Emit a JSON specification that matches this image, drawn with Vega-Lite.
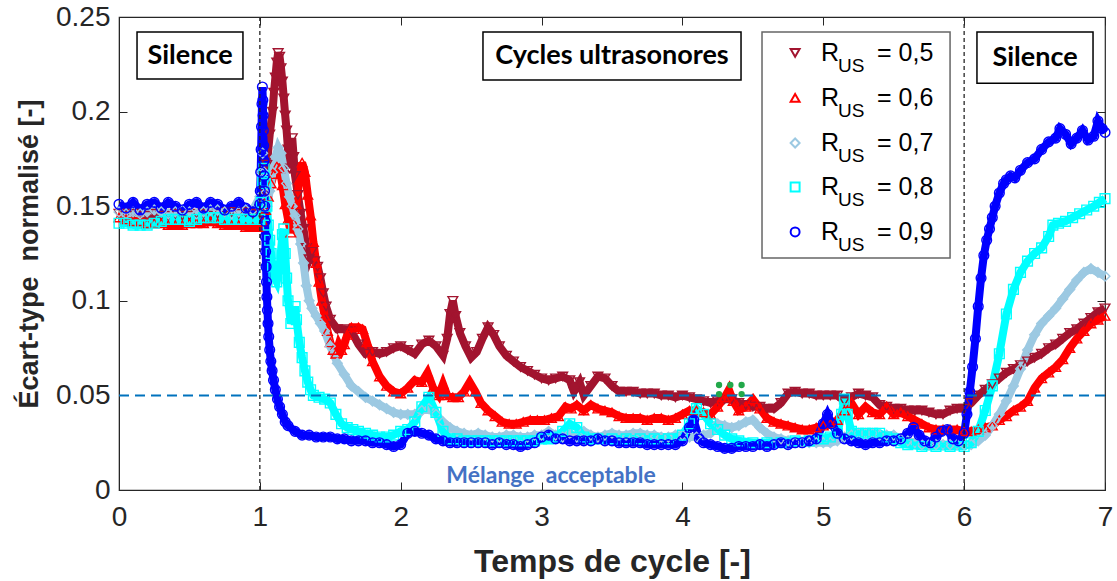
{
"$schema":"https://vega.github.io/schema/vega-lite/v6.json",
"width":986,"height":473,
"autosize":{"type":"none"},
"padding":{"left":119,"top":17,"right":12,"bottom":91},
"background":"white",
"config":{"view":{"stroke":"#262626","strokeWidth":1.2},"font":"Liberation Sans"},
"datasets":{
"pts":[
{"r":"0,5","x":0,"y":0.146},{"r":"0,5","x":0.05,"y":0.145},{"r":"0,5","x":0.1,"y":0.146},{"r":"0,5","x":0.15,"y":0.145},{"r":"0,5","x":0.2,"y":0.145},{"r":"0,5","x":0.25,"y":0.146},{"r":"0,5","x":0.3,"y":0.145},{"r":"0,5","x":0.35,"y":0.145},{"r":"0,5","x":0.4,"y":0.146},{"r":"0,5","x":0.45,"y":0.145},{"r":"0,5","x":0.5,"y":0.145},{"r":"0,5","x":0.55,"y":0.146},{"r":"0,5","x":0.6,"y":0.146},{"r":"0,5","x":0.65,"y":0.145},{"r":"0,5","x":0.7,"y":0.146},{"r":"0,5","x":0.75,"y":0.147},{"r":"0,5","x":0.8,"y":0.147},{"r":"0,5","x":0.85,"y":0.146},{"r":"0,5","x":0.9,"y":0.147},{"r":"0,5","x":0.95,"y":0.146},{"r":"0,5","x":1,"y":0.146},
{"r":"0,5","x":1.03,"y":0.158},{"r":"0,5","x":1.05,"y":0.172},{"r":"0,5","x":1.07,"y":0.188},{"r":"0,5","x":1.09,"y":0.2},{"r":"0,5","x":1.1,"y":0.21},{"r":"0,5","x":1.11,"y":0.218},{"r":"0,5","x":1.12,"y":0.226},{"r":"0,5","x":1.13,"y":0.231},{"r":"0,5","x":1.14,"y":0.229},{"r":"0,5","x":1.15,"y":0.223},{"r":"0,5","x":1.16,"y":0.216},{"r":"0,5","x":1.17,"y":0.207},{"r":"0,5","x":1.18,"y":0.198},{"r":"0,5","x":1.19,"y":0.19},{"r":"0,5","x":1.2,"y":0.18},{"r":"0,5","x":1.21,"y":0.17},{"r":"0,5","x":1.22,"y":0.178},{"r":"0,5","x":1.23,"y":0.186},{"r":"0,5","x":1.24,"y":0.176},{"r":"0,5","x":1.25,"y":0.166},{"r":"0,5","x":1.27,"y":0.156},{"r":"0,5","x":1.29,"y":0.146},{"r":"0,5","x":1.31,"y":0.138},{"r":"0,5","x":1.33,"y":0.128},{"r":"0,5","x":1.35,"y":0.122},{"r":"0,5","x":1.37,"y":0.126},{"r":"0,5","x":1.39,"y":0.121},{"r":"0,5","x":1.41,"y":0.118},{"r":"0,5","x":1.43,"y":0.112},{"r":"0,5","x":1.45,"y":0.104},{"r":"0,5","x":1.47,"y":0.097},{"r":"0,5","x":1.5,"y":0.09},
{"r":"0,5","x":1.55,"y":0.085},{"r":"0,5","x":1.6,"y":0.085},{"r":"0,5","x":1.65,"y":0.084},{"r":"0,5","x":1.7,"y":0.077},{"r":"0,5","x":1.75,"y":0.072},{"r":"0,5","x":1.8,"y":0.073},{"r":"0,5","x":1.85,"y":0.072},{"r":"0,5","x":1.9,"y":0.073},{"r":"0,5","x":1.95,"y":0.075},{"r":"0,5","x":2,"y":0.076},{"r":"0,5","x":2.05,"y":0.074},{"r":"0,5","x":2.1,"y":0.072},{"r":"0,5","x":2.15,"y":0.077},{"r":"0,5","x":2.2,"y":0.079},{"r":"0,5","x":2.25,"y":0.076},{"r":"0,5","x":2.3,"y":0.071},{"r":"0,5","x":2.33,"y":0.08},{"r":"0,5","x":2.35,"y":0.093},{"r":"0,5","x":2.37,"y":0.1},{"r":"0,5","x":2.39,"y":0.092},{"r":"0,5","x":2.42,"y":0.083},{"r":"0,5","x":2.46,"y":0.076},{"r":"0,5","x":2.5,"y":0.07},{"r":"0,5","x":2.54,"y":0.073},{"r":"0,5","x":2.58,"y":0.08},{"r":"0,5","x":2.62,"y":0.086},{"r":"0,5","x":2.66,"y":0.082},{"r":"0,5","x":2.7,"y":0.076},{"r":"0,5","x":2.75,"y":0.071},{"r":"0,5","x":2.8,"y":0.068},{"r":"0,5","x":2.85,"y":0.065},{"r":"0,5","x":2.9,"y":0.063},{"r":"0,5","x":2.95,"y":0.061},{"r":"0,5","x":3,"y":0.059},{"r":"0,5","x":3.05,"y":0.058},{"r":"0,5","x":3.1,"y":0.059},{"r":"0,5","x":3.15,"y":0.06},{"r":"0,5","x":3.2,"y":0.058},{"r":"0,5","x":3.23,"y":0.052},{"r":"0,5","x":3.27,"y":0.057},{"r":"0,5","x":3.3,"y":0.05},{"r":"0,5","x":3.35,"y":0.055},{"r":"0,5","x":3.4,"y":0.06},{"r":"0,5","x":3.45,"y":0.059},{"r":"0,5","x":3.5,"y":0.055},{"r":"0,5","x":3.55,"y":0.052},{"r":"0,5","x":3.6,"y":0.052},{"r":"0,5","x":3.65,"y":0.052},{"r":"0,5","x":3.7,"y":0.051},{"r":"0,5","x":3.75,"y":0.051},{"r":"0,5","x":3.8,"y":0.051},{"r":"0,5","x":3.85,"y":0.05},{"r":"0,5","x":3.9,"y":0.05},{"r":"0,5","x":3.95,"y":0.049},{"r":"0,5","x":4,"y":0.05},{"r":"0,5","x":4.05,"y":0.049},{"r":"0,5","x":4.1,"y":0.048},{"r":"0,5","x":4.15,"y":0.047},{"r":"0,5","x":4.2,"y":0.046},{"r":"0,5","x":4.25,"y":0.047},{"r":"0,5","x":4.3,"y":0.048},{"r":"0,5","x":4.35,"y":0.048},{"r":"0,5","x":4.4,"y":0.046},{"r":"0,5","x":4.45,"y":0.045},{"r":"0,5","x":4.5,"y":0.044},{"r":"0,5","x":4.55,"y":0.044},{"r":"0,5","x":4.6,"y":0.043},{"r":"0,5","x":4.65,"y":0.043},{"r":"0,5","x":4.7,"y":0.046},{"r":"0,5","x":4.75,"y":0.051},{"r":"0,5","x":4.8,"y":0.052},{"r":"0,5","x":4.85,"y":0.051},{"r":"0,5","x":4.9,"y":0.051},{"r":"0,5","x":4.95,"y":0.05},{"r":"0,5","x":5,"y":0.05},{"r":"0,5","x":5.05,"y":0.05},{"r":"0,5","x":5.1,"y":0.05},{"r":"0,5","x":5.15,"y":0.047},{"r":"0,5","x":5.2,"y":0.049},{"r":"0,5","x":5.25,"y":0.051},{"r":"0,5","x":5.3,"y":0.05},{"r":"0,5","x":5.35,"y":0.049},{"r":"0,5","x":5.4,"y":0.045},{"r":"0,5","x":5.45,"y":0.044},{"r":"0,5","x":5.5,"y":0.043},{"r":"0,5","x":5.55,"y":0.043},{"r":"0,5","x":5.6,"y":0.042},{"r":"0,5","x":5.65,"y":0.042},{"r":"0,5","x":5.7,"y":0.042},{"r":"0,5","x":5.75,"y":0.041},{"r":"0,5","x":5.8,"y":0.04},{"r":"0,5","x":5.85,"y":0.04},{"r":"0,5","x":5.9,"y":0.042},{"r":"0,5","x":5.95,"y":0.043},{"r":"0,5","x":6,"y":0.043},{"r":"0,5","x":6.05,"y":0.046},{"r":"0,5","x":6.1,"y":0.05},{"r":"0,5","x":6.15,"y":0.053},{"r":"0,5","x":6.2,"y":0.056},{"r":"0,5","x":6.25,"y":0.059},{"r":"0,5","x":6.3,"y":0.062},{"r":"0,5","x":6.35,"y":0.064},{"r":"0,5","x":6.4,"y":0.066},{"r":"0,5","x":6.45,"y":0.068},{"r":"0,5","x":6.5,"y":0.07},{"r":"0,5","x":6.55,"y":0.072},{"r":"0,5","x":6.6,"y":0.075},{"r":"0,5","x":6.65,"y":0.077},{"r":"0,5","x":6.7,"y":0.08},{"r":"0,5","x":6.75,"y":0.083},{"r":"0,5","x":6.8,"y":0.085},{"r":"0,5","x":6.85,"y":0.088},{"r":"0,5","x":6.9,"y":0.091},{"r":"0,5","x":6.95,"y":0.094},{"r":"0,5","x":7,"y":0.096},
{"r":"0,6","x":0,"y":0.144},{"r":"0,6","x":0.05,"y":0.143},{"r":"0,6","x":0.1,"y":0.142},{"r":"0,6","x":0.15,"y":0.142},{"r":"0,6","x":0.2,"y":0.141},{"r":"0,6","x":0.25,"y":0.141},{"r":"0,6","x":0.3,"y":0.141},{"r":"0,6","x":0.35,"y":0.14},{"r":"0,6","x":0.4,"y":0.14},{"r":"0,6","x":0.45,"y":0.14},{"r":"0,6","x":0.5,"y":0.141},{"r":"0,6","x":0.55,"y":0.141},{"r":"0,6","x":0.6,"y":0.141},{"r":"0,6","x":0.65,"y":0.142},{"r":"0,6","x":0.7,"y":0.141},{"r":"0,6","x":0.75,"y":0.14},{"r":"0,6","x":0.8,"y":0.14},{"r":"0,6","x":0.85,"y":0.14},{"r":"0,6","x":0.9,"y":0.139},{"r":"0,6","x":0.95,"y":0.139},{"r":"0,6","x":1,"y":0.139},
{"r":"0,6","x":1.02,"y":0.142},{"r":"0,6","x":1.04,"y":0.148},{"r":"0,6","x":1.06,"y":0.155},{"r":"0,6","x":1.08,"y":0.162},{"r":"0,6","x":1.1,"y":0.167},{"r":"0,6","x":1.12,"y":0.171},{"r":"0,6","x":1.14,"y":0.17},{"r":"0,6","x":1.16,"y":0.161},{"r":"0,6","x":1.18,"y":0.151},{"r":"0,6","x":1.2,"y":0.143},{"r":"0,6","x":1.22,"y":0.136},{"r":"0,6","x":1.24,"y":0.141},{"r":"0,6","x":1.26,"y":0.151},{"r":"0,6","x":1.28,"y":0.164},{"r":"0,6","x":1.3,"y":0.173},{"r":"0,6","x":1.32,"y":0.168},{"r":"0,6","x":1.34,"y":0.156},{"r":"0,6","x":1.36,"y":0.145},{"r":"0,6","x":1.38,"y":0.131},{"r":"0,6","x":1.4,"y":0.12},{"r":"0,6","x":1.42,"y":0.11},{"r":"0,6","x":1.44,"y":0.1},{"r":"0,6","x":1.46,"y":0.092},{"r":"0,6","x":1.48,"y":0.084},{"r":"0,6","x":1.5,"y":0.078},{"r":"0,6","x":1.52,"y":0.074},{"r":"0,6","x":1.54,"y":0.072},{"r":"0,6","x":1.56,"y":0.077},{"r":"0,6","x":1.58,"y":0.074},{"r":"0,6","x":1.6,"y":0.077},{"r":"0,6","x":1.62,"y":0.082},{"r":"0,6","x":1.65,"y":0.086},{"r":"0,6","x":1.7,"y":0.086},{"r":"0,6","x":1.73,"y":0.085},{"r":"0,6","x":1.76,"y":0.078},{"r":"0,6","x":1.8,"y":0.068},{"r":"0,6","x":1.85,"y":0.06},{"r":"0,6","x":1.9,"y":0.055},{"r":"0,6","x":1.95,"y":0.052},{"r":"0,6","x":2,"y":0.051},{"r":"0,6","x":2.05,"y":0.054},{"r":"0,6","x":2.1,"y":0.058},{"r":"0,6","x":2.15,"y":0.057},{"r":"0,6","x":2.19,"y":0.062},{"r":"0,6","x":2.23,"y":0.054},{"r":"0,6","x":2.27,"y":0.05},{"r":"0,6","x":2.3,"y":0.056},{"r":"0,6","x":2.33,"y":0.05},{"r":"0,6","x":2.37,"y":0.049},{"r":"0,6","x":2.41,"y":0.049},{"r":"0,6","x":2.45,"y":0.052},{"r":"0,6","x":2.49,"y":0.057},{"r":"0,6","x":2.53,"y":0.052},{"r":"0,6","x":2.57,"y":0.046},{"r":"0,6","x":2.62,"y":0.042},{"r":"0,6","x":2.67,"y":0.039},{"r":"0,6","x":2.72,"y":0.036},{"r":"0,6","x":2.77,"y":0.035},{"r":"0,6","x":2.82,"y":0.035},{"r":"0,6","x":2.87,"y":0.036},{"r":"0,6","x":2.92,"y":0.037},{"r":"0,6","x":2.97,"y":0.037},{"r":"0,6","x":3.02,"y":0.037},{"r":"0,6","x":3.07,"y":0.038},{"r":"0,6","x":3.12,"y":0.039},{"r":"0,6","x":3.17,"y":0.044},{"r":"0,6","x":3.21,"y":0.043},{"r":"0,6","x":3.25,"y":0.045},{"r":"0,6","x":3.3,"y":0.042},{"r":"0,6","x":3.35,"y":0.045},{"r":"0,6","x":3.4,"y":0.043},{"r":"0,6","x":3.45,"y":0.042},{"r":"0,6","x":3.5,"y":0.041},{"r":"0,6","x":3.55,"y":0.039},{"r":"0,6","x":3.6,"y":0.038},{"r":"0,6","x":3.65,"y":0.038},{"r":"0,6","x":3.7,"y":0.038},{"r":"0,6","x":3.75,"y":0.037},{"r":"0,6","x":3.8,"y":0.038},{"r":"0,6","x":3.85,"y":0.038},{"r":"0,6","x":3.9,"y":0.037},{"r":"0,6","x":3.95,"y":0.038},{"r":"0,6","x":4,"y":0.04},{"r":"0,6","x":4.05,"y":0.042},{"r":"0,6","x":4.1,"y":0.042},{"r":"0,6","x":4.15,"y":0.041},{"r":"0,6","x":4.2,"y":0.04},{"r":"0,6","x":4.25,"y":0.044},{"r":"0,6","x":4.3,"y":0.049},{"r":"0,6","x":4.33,"y":0.053},{"r":"0,6","x":4.36,"y":0.047},{"r":"0,6","x":4.4,"y":0.042},{"r":"0,6","x":4.45,"y":0.044},{"r":"0,6","x":4.5,"y":0.048},{"r":"0,6","x":4.55,"y":0.043},{"r":"0,6","x":4.6,"y":0.038},{"r":"0,6","x":4.65,"y":0.036},{"r":"0,6","x":4.7,"y":0.035},{"r":"0,6","x":4.75,"y":0.034},{"r":"0,6","x":4.8,"y":0.033},{"r":"0,6","x":4.85,"y":0.032},{"r":"0,6","x":4.9,"y":0.032},{"r":"0,6","x":4.95,"y":0.033},{"r":"0,6","x":5,"y":0.034},{"r":"0,6","x":5.05,"y":0.035},{"r":"0,6","x":5.1,"y":0.037},{"r":"0,6","x":5.15,"y":0.042},{"r":"0,6","x":5.2,"y":0.046},{"r":"0,6","x":5.25,"y":0.04},{"r":"0,6","x":5.3,"y":0.044},{"r":"0,6","x":5.35,"y":0.041},{"r":"0,6","x":5.4,"y":0.04},{"r":"0,6","x":5.45,"y":0.044},{"r":"0,6","x":5.5,"y":0.04},{"r":"0,6","x":5.55,"y":0.041},{"r":"0,6","x":5.6,"y":0.039},{"r":"0,6","x":5.65,"y":0.037},{"r":"0,6","x":5.7,"y":0.035},{"r":"0,6","x":5.75,"y":0.033},{"r":"0,6","x":5.8,"y":0.032},{"r":"0,6","x":5.85,"y":0.032},{"r":"0,6","x":5.9,"y":0.032},{"r":"0,6","x":5.95,"y":0.032},{"r":"0,6","x":6,"y":0.031},{"r":"0,6","x":6.05,"y":0.031},{"r":"0,6","x":6.1,"y":0.032},{"r":"0,6","x":6.15,"y":0.033},{"r":"0,6","x":6.2,"y":0.034},{"r":"0,6","x":6.25,"y":0.037},{"r":"0,6","x":6.3,"y":0.039},{"r":"0,6","x":6.35,"y":0.042},{"r":"0,6","x":6.4,"y":0.044},{"r":"0,6","x":6.45,"y":0.047},{"r":"0,6","x":6.5,"y":0.054},{"r":"0,6","x":6.55,"y":0.059},{"r":"0,6","x":6.6,"y":0.062},{"r":"0,6","x":6.65,"y":0.065},{"r":"0,6","x":6.7,"y":0.069},{"r":"0,6","x":6.75,"y":0.075},{"r":"0,6","x":6.8,"y":0.08},{"r":"0,6","x":6.85,"y":0.084},{"r":"0,6","x":6.9,"y":0.088},{"r":"0,6","x":6.95,"y":0.09},{"r":"0,6","x":7,"y":0.092},
{"r":"0,7","x":0,"y":0.147},{"r":"0,7","x":0.05,"y":0.146},{"r":"0,7","x":0.1,"y":0.147},{"r":"0,7","x":0.15,"y":0.146},{"r":"0,7","x":0.2,"y":0.147},{"r":"0,7","x":0.25,"y":0.148},{"r":"0,7","x":0.3,"y":0.147},{"r":"0,7","x":0.35,"y":0.146},{"r":"0,7","x":0.4,"y":0.147},{"r":"0,7","x":0.45,"y":0.148},{"r":"0,7","x":0.5,"y":0.147},{"r":"0,7","x":0.55,"y":0.146},{"r":"0,7","x":0.6,"y":0.147},{"r":"0,7","x":0.65,"y":0.148},{"r":"0,7","x":0.7,"y":0.148},{"r":"0,7","x":0.75,"y":0.147},{"r":"0,7","x":0.8,"y":0.146},{"r":"0,7","x":0.85,"y":0.147},{"r":"0,7","x":0.9,"y":0.148},{"r":"0,7","x":0.95,"y":0.148},
{"r":"0,7","x":1,"y":0.155},{"r":"0,7","x":1.01,"y":0.168},{"r":"0,7","x":1.02,"y":0.178},{"r":"0,7","x":1.03,"y":0.168},{"r":"0,7","x":1.04,"y":0.157},{"r":"0,7","x":1.05,"y":0.15},{"r":"0,7","x":1.07,"y":0.158},{"r":"0,7","x":1.09,"y":0.168},{"r":"0,7","x":1.11,"y":0.176},{"r":"0,7","x":1.13,"y":0.181},{"r":"0,7","x":1.15,"y":0.178},{"r":"0,7","x":1.17,"y":0.17},{"r":"0,7","x":1.19,"y":0.162},{"r":"0,7","x":1.21,"y":0.155},{"r":"0,7","x":1.23,"y":0.15},{"r":"0,7","x":1.25,"y":0.145},{"r":"0,7","x":1.27,"y":0.138},{"r":"0,7","x":1.29,"y":0.13},{"r":"0,7","x":1.31,"y":0.12},{"r":"0,7","x":1.33,"y":0.108},{"r":"0,7","x":1.35,"y":0.1},{"r":"0,7","x":1.37,"y":0.096},{"r":"0,7","x":1.4,"y":0.092},{"r":"0,7","x":1.43,"y":0.088},{"r":"0,7","x":1.46,"y":0.084},{"r":"0,7","x":1.5,"y":0.076},{"r":"0,7","x":1.55,"y":0.067},{"r":"0,7","x":1.6,"y":0.061},{"r":"0,7","x":1.65,"y":0.055},{"r":"0,7","x":1.7,"y":0.052},{"r":"0,7","x":1.75,"y":0.049},{"r":"0,7","x":1.8,"y":0.047},{"r":"0,7","x":1.85,"y":0.045},{"r":"0,7","x":1.9,"y":0.043},{"r":"0,7","x":1.95,"y":0.041},{"r":"0,7","x":2,"y":0.04},{"r":"0,7","x":2.05,"y":0.04},{"r":"0,7","x":2.1,"y":0.04},{"r":"0,7","x":2.15,"y":0.042},{"r":"0,7","x":2.2,"y":0.043},{"r":"0,7","x":2.25,"y":0.04},{"r":"0,7","x":2.3,"y":0.036},{"r":"0,7","x":2.35,"y":0.033},{"r":"0,7","x":2.4,"y":0.031},{"r":"0,7","x":2.45,"y":0.03},{"r":"0,7","x":2.5,"y":0.029},{"r":"0,7","x":2.55,"y":0.03},{"r":"0,7","x":2.6,"y":0.029},{"r":"0,7","x":2.65,"y":0.028},{"r":"0,7","x":2.7,"y":0.028},{"r":"0,7","x":2.75,"y":0.029},{"r":"0,7","x":2.8,"y":0.029},{"r":"0,7","x":2.85,"y":0.028},{"r":"0,7","x":2.9,"y":0.028},{"r":"0,7","x":2.95,"y":0.029},{"r":"0,7","x":3,"y":0.029},{"r":"0,7","x":3.05,"y":0.031},{"r":"0,7","x":3.1,"y":0.029},{"r":"0,7","x":3.15,"y":0.028},{"r":"0,7","x":3.2,"y":0.03},{"r":"0,7","x":3.25,"y":0.028},{"r":"0,7","x":3.3,"y":0.031},{"r":"0,7","x":3.35,"y":0.029},{"r":"0,7","x":3.4,"y":0.028},{"r":"0,7","x":3.45,"y":0.029},{"r":"0,7","x":3.5,"y":0.03},{"r":"0,7","x":3.55,"y":0.029},{"r":"0,7","x":3.6,"y":0.029},{"r":"0,7","x":3.65,"y":0.03},{"r":"0,7","x":3.7,"y":0.03},{"r":"0,7","x":3.75,"y":0.029},{"r":"0,7","x":3.8,"y":0.029},{"r":"0,7","x":3.85,"y":0.028},{"r":"0,7","x":3.9,"y":0.028},{"r":"0,7","x":3.95,"y":0.029},{"r":"0,7","x":4,"y":0.029},{"r":"0,7","x":4.05,"y":0.028},{"r":"0,7","x":4.1,"y":0.028},{"r":"0,7","x":4.15,"y":0.029},{"r":"0,7","x":4.2,"y":0.03},{"r":"0,7","x":4.25,"y":0.035},{"r":"0,7","x":4.3,"y":0.034},{"r":"0,7","x":4.35,"y":0.033},{"r":"0,7","x":4.4,"y":0.034},{"r":"0,7","x":4.45,"y":0.036},{"r":"0,7","x":4.5,"y":0.037},{"r":"0,7","x":4.55,"y":0.033},{"r":"0,7","x":4.6,"y":0.03},{"r":"0,7","x":4.65,"y":0.028},{"r":"0,7","x":4.7,"y":0.027},{"r":"0,7","x":4.75,"y":0.026},{"r":"0,7","x":4.8,"y":0.025},{"r":"0,7","x":4.85,"y":0.025},{"r":"0,7","x":4.9,"y":0.025},{"r":"0,7","x":4.95,"y":0.025},{"r":"0,7","x":5,"y":0.025},{"r":"0,7","x":5.05,"y":0.025},{"r":"0,7","x":5.1,"y":0.026},{"r":"0,7","x":5.15,"y":0.028},{"r":"0,7","x":5.2,"y":0.029},{"r":"0,7","x":5.25,"y":0.03},{"r":"0,7","x":5.3,"y":0.03},{"r":"0,7","x":5.35,"y":0.03},{"r":"0,7","x":5.4,"y":0.029},{"r":"0,7","x":5.45,"y":0.029},{"r":"0,7","x":5.5,"y":0.029},{"r":"0,7","x":5.55,"y":0.027},{"r":"0,7","x":5.6,"y":0.026},{"r":"0,7","x":5.65,"y":0.025},{"r":"0,7","x":5.7,"y":0.024},{"r":"0,7","x":5.75,"y":0.024},{"r":"0,7","x":5.8,"y":0.024},{"r":"0,7","x":5.85,"y":0.024},{"r":"0,7","x":5.9,"y":0.024},{"r":"0,7","x":5.95,"y":0.024},{"r":"0,7","x":6,"y":0.024},{"r":"0,7","x":6.05,"y":0.024},{"r":"0,7","x":6.1,"y":0.026},{"r":"0,7","x":6.15,"y":0.029},{"r":"0,7","x":6.2,"y":0.034},{"r":"0,7","x":6.25,"y":0.04},{"r":"0,7","x":6.3,"y":0.047},{"r":"0,7","x":6.35,"y":0.055},{"r":"0,7","x":6.4,"y":0.064},{"r":"0,7","x":6.45,"y":0.074},{"r":"0,7","x":6.5,"y":0.082},{"r":"0,7","x":6.55,"y":0.088},{"r":"0,7","x":6.6,"y":0.092},{"r":"0,7","x":6.65,"y":0.096},{"r":"0,7","x":6.7,"y":0.101},{"r":"0,7","x":6.75,"y":0.106},{"r":"0,7","x":6.8,"y":0.111},{"r":"0,7","x":6.85,"y":0.115},{"r":"0,7","x":6.9,"y":0.117},{"r":"0,7","x":6.95,"y":0.115},{"r":"0,7","x":7,"y":0.113},
{"r":"0,8","x":0,"y":0.141},{"r":"0,8","x":0.05,"y":0.141},{"r":"0,8","x":0.1,"y":0.14},{"r":"0,8","x":0.15,"y":0.14},{"r":"0,8","x":0.2,"y":0.14},{"r":"0,8","x":0.25,"y":0.141},{"r":"0,8","x":0.3,"y":0.142},{"r":"0,8","x":0.35,"y":0.143},{"r":"0,8","x":0.4,"y":0.143},{"r":"0,8","x":0.45,"y":0.143},{"r":"0,8","x":0.5,"y":0.142},{"r":"0,8","x":0.55,"y":0.143},{"r":"0,8","x":0.6,"y":0.144},{"r":"0,8","x":0.65,"y":0.144},{"r":"0,8","x":0.7,"y":0.144},{"r":"0,8","x":0.75,"y":0.143},{"r":"0,8","x":0.8,"y":0.143},{"r":"0,8","x":0.85,"y":0.143},{"r":"0,8","x":0.9,"y":0.143},{"r":"0,8","x":0.95,"y":0.143},{"r":"0,8","x":1,"y":0.143},
{"r":"0,8","x":1.01,"y":0.152},{"r":"0,8","x":1.02,"y":0.163},{"r":"0,8","x":1.03,"y":0.17},{"r":"0,8","x":1.04,"y":0.162},{"r":"0,8","x":1.05,"y":0.15},{"r":"0,8","x":1.06,"y":0.14},{"r":"0,8","x":1.07,"y":0.132},{"r":"0,8","x":1.08,"y":0.125},{"r":"0,8","x":1.09,"y":0.118},{"r":"0,8","x":1.1,"y":0.113},{"r":"0,8","x":1.12,"y":0.11},{"r":"0,8","x":1.14,"y":0.118},{"r":"0,8","x":1.16,"y":0.135},{"r":"0,8","x":1.17,"y":0.138},{"r":"0,8","x":1.18,"y":0.125},{"r":"0,8","x":1.19,"y":0.112},{"r":"0,8","x":1.2,"y":0.1},{"r":"0,8","x":1.22,"y":0.088},{"r":"0,8","x":1.24,"y":0.092},{"r":"0,8","x":1.25,"y":0.097},{"r":"0,8","x":1.26,"y":0.09},{"r":"0,8","x":1.28,"y":0.078},{"r":"0,8","x":1.3,"y":0.07},{"r":"0,8","x":1.32,"y":0.063},{"r":"0,8","x":1.34,"y":0.057},{"r":"0,8","x":1.36,"y":0.053},{"r":"0,8","x":1.38,"y":0.05},{"r":"0,8","x":1.42,"y":0.049},{"r":"0,8","x":1.46,"y":0.048},{"r":"0,8","x":1.5,"y":0.046},{"r":"0,8","x":1.54,"y":0.04},{"r":"0,8","x":1.58,"y":0.035},{"r":"0,8","x":1.62,"y":0.033},{"r":"0,8","x":1.66,"y":0.032},{"r":"0,8","x":1.7,"y":0.031},{"r":"0,8","x":1.75,"y":0.03},{"r":"0,8","x":1.8,"y":0.029},{"r":"0,8","x":1.85,"y":0.028},{"r":"0,8","x":1.9,"y":0.028},{"r":"0,8","x":1.95,"y":0.029},{"r":"0,8","x":2,"y":0.031},{"r":"0,8","x":2.05,"y":0.032},{"r":"0,8","x":2.1,"y":0.036},{"r":"0,8","x":2.15,"y":0.044},{"r":"0,8","x":2.2,"y":0.049},{"r":"0,8","x":2.25,"y":0.041},{"r":"0,8","x":2.3,"y":0.031},{"r":"0,8","x":2.35,"y":0.027},{"r":"0,8","x":2.4,"y":0.027},{"r":"0,8","x":2.45,"y":0.026},{"r":"0,8","x":2.5,"y":0.026},{"r":"0,8","x":2.55,"y":0.026},{"r":"0,8","x":2.6,"y":0.026},{"r":"0,8","x":2.65,"y":0.026},{"r":"0,8","x":2.7,"y":0.026},{"r":"0,8","x":2.75,"y":0.026},{"r":"0,8","x":2.8,"y":0.026},{"r":"0,8","x":2.85,"y":0.026},{"r":"0,8","x":2.9,"y":0.026},{"r":"0,8","x":2.95,"y":0.026},{"r":"0,8","x":3,"y":0.027},{"r":"0,8","x":3.05,"y":0.027},{"r":"0,8","x":3.1,"y":0.028},{"r":"0,8","x":3.15,"y":0.031},{"r":"0,8","x":3.2,"y":0.035},{"r":"0,8","x":3.25,"y":0.033},{"r":"0,8","x":3.3,"y":0.028},{"r":"0,8","x":3.35,"y":0.027},{"r":"0,8","x":3.4,"y":0.027},{"r":"0,8","x":3.5,"y":0.027},{"r":"0,8","x":3.6,"y":0.027},{"r":"0,8","x":3.7,"y":0.027},{"r":"0,8","x":3.8,"y":0.027},{"r":"0,8","x":3.9,"y":0.027},{"r":"0,8","x":4,"y":0.029},{"r":"0,8","x":4.05,"y":0.035},{"r":"0,8","x":4.1,"y":0.043},{"r":"0,8","x":4.15,"y":0.04},{"r":"0,8","x":4.2,"y":0.035},{"r":"0,8","x":4.25,"y":0.032},{"r":"0,8","x":4.3,"y":0.029},{"r":"0,8","x":4.35,"y":0.027},{"r":"0,8","x":4.4,"y":0.026},{"r":"0,8","x":4.5,"y":0.025},{"r":"0,8","x":4.6,"y":0.025},{"r":"0,8","x":4.7,"y":0.025},{"r":"0,8","x":4.8,"y":0.026},{"r":"0,8","x":4.9,"y":0.026},{"r":"0,8","x":5,"y":0.027},{"r":"0,8","x":5.05,"y":0.028},{"r":"0,8","x":5.1,"y":0.03},{"r":"0,8","x":5.13,"y":0.04},{"r":"0,8","x":5.15,"y":0.048},{"r":"0,8","x":5.17,"y":0.04},{"r":"0,8","x":5.2,"y":0.031},{"r":"0,8","x":5.25,"y":0.03},{"r":"0,8","x":5.3,"y":0.03},{"r":"0,8","x":5.35,"y":0.03},{"r":"0,8","x":5.4,"y":0.03},{"r":"0,8","x":5.45,"y":0.028},{"r":"0,8","x":5.5,"y":0.027},{"r":"0,8","x":5.55,"y":0.025},{"r":"0,8","x":5.6,"y":0.024},{"r":"0,8","x":5.7,"y":0.023},{"r":"0,8","x":5.8,"y":0.023},{"r":"0,8","x":5.9,"y":0.023},{"r":"0,8","x":6,"y":0.023},{"r":"0,8","x":6.05,"y":0.025},{"r":"0,8","x":6.1,"y":0.031},{"r":"0,8","x":6.15,"y":0.042},{"r":"0,8","x":6.2,"y":0.055},{"r":"0,8","x":6.25,"y":0.072},{"r":"0,8","x":6.3,"y":0.093},{"r":"0,8","x":6.35,"y":0.106},{"r":"0,8","x":6.4,"y":0.115},{"r":"0,8","x":6.45,"y":0.121},{"r":"0,8","x":6.5,"y":0.125},{"r":"0,8","x":6.55,"y":0.128},{"r":"0,8","x":6.6,"y":0.134},{"r":"0,8","x":6.63,"y":0.14},{"r":"0,8","x":6.67,"y":0.141},{"r":"0,8","x":6.72,"y":0.142},{"r":"0,8","x":6.77,"y":0.144},{"r":"0,8","x":6.82,"y":0.146},{"r":"0,8","x":6.87,"y":0.148},{"r":"0,8","x":6.92,"y":0.15},{"r":"0,8","x":6.96,"y":0.152},{"r":"0,8","x":7,"y":0.154},
{"r":"0,9","x":0,"y":0.151},{"r":"0,9","x":0.05,"y":0.149},{"r":"0,9","x":0.1,"y":0.152},{"r":"0,9","x":0.15,"y":0.148},{"r":"0,9","x":0.2,"y":0.151},{"r":"0,9","x":0.25,"y":0.152},{"r":"0,9","x":0.3,"y":0.149},{"r":"0,9","x":0.35,"y":0.152},{"r":"0,9","x":0.4,"y":0.15},{"r":"0,9","x":0.45,"y":0.148},{"r":"0,9","x":0.5,"y":0.151},{"r":"0,9","x":0.55,"y":0.152},{"r":"0,9","x":0.6,"y":0.149},{"r":"0,9","x":0.65,"y":0.152},{"r":"0,9","x":0.7,"y":0.151},{"r":"0,9","x":0.75,"y":0.148},{"r":"0,9","x":0.8,"y":0.15},{"r":"0,9","x":0.85,"y":0.152},{"r":"0,9","x":0.9,"y":0.149},{"r":"0,9","x":0.95,"y":0.147},{"r":"0,9","x":1,"y":0.151},
{"r":"0,9","x":1.003,"y":0.158},{"r":"0,9","x":1.006,"y":0.168},{"r":"0,9","x":1.009,"y":0.18},{"r":"0,9","x":1.012,"y":0.192},{"r":"0,9","x":1.015,"y":0.204},{"r":"0,9","x":1.018,"y":0.213},{"r":"0,9","x":1.021,"y":0.206},{"r":"0,9","x":1.023,"y":0.198},{"r":"0,9","x":1.025,"y":0.19},{"r":"0,9","x":1.027,"y":0.182},{"r":"0,9","x":1.029,"y":0.174},{"r":"0,9","x":1.031,"y":0.166},{"r":"0,9","x":1.033,"y":0.158},{"r":"0,9","x":1.035,"y":0.15},{"r":"0,9","x":1.037,"y":0.142},{"r":"0,9","x":1.039,"y":0.134},{"r":"0,9","x":1.041,"y":0.126},{"r":"0,9","x":1.044,"y":0.118},{"r":"0,9","x":1.047,"y":0.11},{"r":"0,9","x":1.05,"y":0.102},{"r":"0,9","x":1.054,"y":0.095},{"r":"0,9","x":1.058,"y":0.088},{"r":"0,9","x":1.063,"y":0.081},{"r":"0,9","x":1.07,"y":0.074},{"r":"0,9","x":1.078,"y":0.068},{"r":"0,9","x":1.087,"y":0.063},{"r":"0,9","x":1.097,"y":0.058},{"r":"0,9","x":1.11,"y":0.053},{"r":"0,9","x":1.125,"y":0.048},{"r":"0,9","x":1.14,"y":0.044},{"r":"0,9","x":1.16,"y":0.04},{"r":"0,9","x":1.18,"y":0.036},{"r":"0,9","x":1.2,"y":0.034},{"r":"0,9","x":1.25,"y":0.031},{"r":"0,9","x":1.3,"y":0.029},
{"r":"0,9","x":1.35,"y":0.029},{"r":"0,9","x":1.4,"y":0.028},{"r":"0,9","x":1.45,"y":0.028},{"r":"0,9","x":1.5,"y":0.028},{"r":"0,9","x":1.55,"y":0.027},{"r":"0,9","x":1.6,"y":0.027},{"r":"0,9","x":1.65,"y":0.026},{"r":"0,9","x":1.7,"y":0.026},{"r":"0,9","x":1.75,"y":0.026},{"r":"0,9","x":1.8,"y":0.025},{"r":"0,9","x":1.85,"y":0.025},{"r":"0,9","x":1.9,"y":0.024},{"r":"0,9","x":1.95,"y":0.023},{"r":"0,9","x":2,"y":0.024},{"r":"0,9","x":2.05,"y":0.03},{"r":"0,9","x":2.1,"y":0.031},{"r":"0,9","x":2.15,"y":0.03},{"r":"0,9","x":2.2,"y":0.029},{"r":"0,9","x":2.25,"y":0.027},{"r":"0,9","x":2.3,"y":0.026},{"r":"0,9","x":2.35,"y":0.025},{"r":"0,9","x":2.4,"y":0.025},{"r":"0,9","x":2.45,"y":0.025},{"r":"0,9","x":2.5,"y":0.025},{"r":"0,9","x":2.55,"y":0.025},{"r":"0,9","x":2.6,"y":0.025},{"r":"0,9","x":2.65,"y":0.024},{"r":"0,9","x":2.7,"y":0.025},{"r":"0,9","x":2.75,"y":0.024},{"r":"0,9","x":2.8,"y":0.024},{"r":"0,9","x":2.85,"y":0.023},{"r":"0,9","x":2.9,"y":0.024},{"r":"0,9","x":2.95,"y":0.025},{"r":"0,9","x":3,"y":0.028},{"r":"0,9","x":3.05,"y":0.029},{"r":"0,9","x":3.1,"y":0.027},{"r":"0,9","x":3.15,"y":0.027},{"r":"0,9","x":3.2,"y":0.026},{"r":"0,9","x":3.25,"y":0.026},{"r":"0,9","x":3.3,"y":0.026},{"r":"0,9","x":3.35,"y":0.026},{"r":"0,9","x":3.4,"y":0.027},{"r":"0,9","x":3.45,"y":0.026},{"r":"0,9","x":3.5,"y":0.026},{"r":"0,9","x":3.55,"y":0.025},{"r":"0,9","x":3.6,"y":0.025},{"r":"0,9","x":3.65,"y":0.025},{"r":"0,9","x":3.7,"y":0.025},{"r":"0,9","x":3.75,"y":0.024},{"r":"0,9","x":3.8,"y":0.024},{"r":"0,9","x":3.85,"y":0.024},{"r":"0,9","x":3.9,"y":0.024},{"r":"0,9","x":3.95,"y":0.024},{"r":"0,9","x":4,"y":0.026},{"r":"0,9","x":4.05,"y":0.033},{"r":"0,9","x":4.08,"y":0.037},{"r":"0,9","x":4.12,"y":0.027},{"r":"0,9","x":4.15,"y":0.025},{"r":"0,9","x":4.2,"y":0.024},{"r":"0,9","x":4.25,"y":0.023},{"r":"0,9","x":4.3,"y":0.022},{"r":"0,9","x":4.35,"y":0.022},{"r":"0,9","x":4.4,"y":0.023},{"r":"0,9","x":4.45,"y":0.023},{"r":"0,9","x":4.5,"y":0.023},{"r":"0,9","x":4.55,"y":0.024},{"r":"0,9","x":4.6,"y":0.023},{"r":"0,9","x":4.65,"y":0.024},{"r":"0,9","x":4.7,"y":0.025},{"r":"0,9","x":4.75,"y":0.024},{"r":"0,9","x":4.8,"y":0.025},{"r":"0,9","x":4.85,"y":0.025},{"r":"0,9","x":4.9,"y":0.026},{"r":"0,9","x":4.95,"y":0.027},{"r":"0,9","x":5,"y":0.035},{"r":"0,9","x":5.03,"y":0.04},{"r":"0,9","x":5.06,"y":0.035},{"r":"0,9","x":5.1,"y":0.03},{"r":"0,9","x":5.15,"y":0.027},{"r":"0,9","x":5.2,"y":0.026},{"r":"0,9","x":5.25,"y":0.025},{"r":"0,9","x":5.3,"y":0.024},{"r":"0,9","x":5.35,"y":0.025},{"r":"0,9","x":5.4,"y":0.025},{"r":"0,9","x":5.45,"y":0.026},{"r":"0,9","x":5.5,"y":0.026},{"r":"0,9","x":5.55,"y":0.027},{"r":"0,9","x":5.6,"y":0.03},{"r":"0,9","x":5.64,"y":0.033},{"r":"0,9","x":5.68,"y":0.029},{"r":"0,9","x":5.72,"y":0.026},{"r":"0,9","x":5.76,"y":0.025},{"r":"0,9","x":5.8,"y":0.028},{"r":"0,9","x":5.84,"y":0.031},{"r":"0,9","x":5.88,"y":0.032},{"r":"0,9","x":5.92,"y":0.027},{"r":"0,9","x":5.96,"y":0.026},{"r":"0,9","x":6,"y":0.03},{"r":"0,9","x":6.02,"y":0.04},{"r":"0,9","x":6.04,"y":0.052},{"r":"0,9","x":6.06,"y":0.065},{"r":"0,9","x":6.08,"y":0.08},{"r":"0,9","x":6.1,"y":0.097},{"r":"0,9","x":6.12,"y":0.112},{"r":"0,9","x":6.14,"y":0.124},{"r":"0,9","x":6.16,"y":0.132},{"r":"0,9","x":6.18,"y":0.138},{"r":"0,9","x":6.2,"y":0.144},{"r":"0,9","x":6.22,"y":0.15},{"r":"0,9","x":6.25,"y":0.157},{"r":"0,9","x":6.28,"y":0.162},{"r":"0,9","x":6.3,"y":0.164},{"r":"0,9","x":6.33,"y":0.166},{"r":"0,9","x":6.36,"y":0.165},{"r":"0,9","x":6.4,"y":0.169},{"r":"0,9","x":6.45,"y":0.173},{"r":"0,9","x":6.5,"y":0.175},{"r":"0,9","x":6.55,"y":0.18},{"r":"0,9","x":6.6,"y":0.184},{"r":"0,9","x":6.65,"y":0.186},{"r":"0,9","x":6.68,"y":0.191},{"r":"0,9","x":6.72,"y":0.188},{"r":"0,9","x":6.76,"y":0.183},{"r":"0,9","x":6.8,"y":0.186},{"r":"0,9","x":6.84,"y":0.19},{"r":"0,9","x":6.88,"y":0.185},{"r":"0,9","x":6.92,"y":0.187},{"r":"0,9","x":6.95,"y":0.195},{"r":"0,9","x":6.98,"y":0.191},{"r":"0,9","x":7,"y":0.189}
],
"legend":[
{"r":"0,5","ly":0.231,"lab":"= 0,5"},{"r":"0,6","ly":0.2072,"lab":"= 0,6"},{"r":"0,7","ly":0.1834,"lab":"= 0,7"},{"r":"0,8","ly":0.1601,"lab":"= 0,8"},{"r":"0,9","ly":0.1364,"lab":"= 0,9"}
],
"boxes":[
{"x":0.128,"x2":0.88,"y":0.2172,"y2":0.2421},{"x":2.584,"x2":4.416,"y":0.2167,"y2":0.2421},{"x":6.091,"x2":6.915,"y":0.215,"y2":0.2421}
],
"boxtext":[
{"t":"Silence","x":0.504,"y":0.2295},{"t":"Cycles ultrasonores","x":3.5,"y":0.2295},{"t":"Silence","x":6.503,"y":0.2285}
],
"legbox":[{"x":4.565,"x2":5.9,"y":0.1226,"y2":0.2421}],
"green":[{"x":4.26,"y":0.0555},{"x":4.34,"y":0.0555},{"x":4.42,"y":0.0555},{"x":4.26,"y":0.0507},{"x":4.42,"y":0.0507}],
"note":[{"t":"Mélange\u00a0 acceptable","x":3.067,"y":0.0074}],
"vlines":[{"v":1},{"v":6}],
"hline":[{"h":0.05}]
},
"layer":[
{"data":{"name":"pts"},
 "mark":{"type":"line","strokeWidth":8},
 "encoding":{
  "x":{"field":"x","type":"quantitative","scale":{"domain":[0,7],"nice":false,"zero":false},
   "axis":{"orient":"bottom","values":[0,1,2,3,4,5,6,7],"format":"d","grid":false,"domainColor":"#262626","tickColor":"#262626","tickSize":-8,"labelFontSize":28,"labelFont":"Liberation Sans","labelColor":"#262626","labelPadding":21,"labelFlush":false,"labelOverlap":false,"title":"Temps de cycle [-]","titleFont":"Liberation Sans","titleFontSize":32,"titleFontWeight":"bold","titleColor":"#262626","titlePadding":15}},
  "y":{"field":"y","type":"quantitative","scale":{"domain":[0,0.25],"nice":false,"zero":false},
   "axis":{"orient":"left","values":[0,0.05,0.1,0.15,0.2,0.25],"format":"~g","grid":false,"domainColor":"#262626","tickColor":"#262626","tickSize":-8,"labelFontSize":28,"labelFont":"Liberation Sans","labelColor":"#262626","labelPadding":17,"labelFlush":false,"labelOverlap":false,"title":"Écart-type\u00a0 normalisé [-]","titleFont":"Liberation Sans","titleFontSize":27,"titleFontWeight":"bold","titleColor":"#262626","titlePadding":12}},
  "color":{"field":"r","type":"nominal","scale":{"domain":["0,5","0,6","0,7","0,8","0,9"],"range":["#A2142F","#FF0000","#9CC9E2","#00FFFF","#0000FF"]},"legend":null}
 }},
{"data":{"name":"pts"},
 "mark":{"type":"point","filled":false,"size":95,"strokeWidth":1.4,"opacity":1},
 "encoding":{
  "x":{"field":"x","type":"quantitative","axis":null},
  "y":{"field":"y","type":"quantitative","axis":null},
  "color":{"field":"r","type":"nominal","legend":null},
  "shape":{"field":"r","type":"nominal","scale":{"domain":["0,5","0,6","0,7","0,8","0,9"],"range":["triangle-down","triangle-up","diamond","square","circle"]},"legend":null}
 }},
{"data":{"name":"vlines"},
 "mark":{"type":"rule","strokeDash":[4,3],"color":"#262626","strokeWidth":1.3},
 "encoding":{"x":{"field":"v","type":"quantitative","axis":{"orient":"top","values":[0,1,2,3,4,5,6,7],"labels":false,"title":null,"domain":false,"grid":false,"tickSize":-8,"tickColor":"#262626"}}}},
{"data":{"name":"hline"},
 "mark":{"type":"rule","strokeDash":[10,6],"color":"#0072BD","strokeWidth":2},
 "encoding":{"y":{"field":"h","type":"quantitative","axis":{"orient":"right","values":[0,0.05,0.1,0.15,0.2,0.25],"labels":false,"title":null,"domain":false,"grid":false,"tickSize":-8,"tickColor":"#262626"}}}},
{"data":{"name":"green"},
 "mark":{"type":"point","filled":true,"shape":"circle","size":40,"color":"#22A84A","opacity":1},
 "encoding":{"x":{"field":"x","type":"quantitative","axis":null},"y":{"field":"y","type":"quantitative","axis":null}}},
{"data":{"name":"boxes"},
 "mark":{"type":"rect","fill":"white","stroke":"#000000","strokeWidth":1.5},
 "encoding":{"x":{"field":"x","type":"quantitative","axis":null},"x2":{"field":"x2"},"y":{"field":"y","type":"quantitative","axis":null},"y2":{"field":"y2"}}},
{"data":{"name":"boxtext"},
 "mark":{"type":"text","font":"Lato","fontWeight":"bold","fontSize":27,"color":"#000000","align":"center","baseline":"middle"},
 "encoding":{"x":{"field":"x","type":"quantitative","axis":null},"y":{"field":"y","type":"quantitative","axis":null},"text":{"field":"t"}}},
{"data":{"name":"legbox"},
 "mark":{"type":"rect","fill":"white","stroke":"#666666","strokeWidth":1.5},
 "encoding":{"x":{"field":"x","type":"quantitative","axis":null},"x2":{"field":"x2"},"y":{"field":"y","type":"quantitative","axis":null},"y2":{"field":"y2"}}},
{"data":{"name":"legend"},
 "mark":{"type":"point","filled":false,"size":80,"strokeWidth":2,"opacity":1},
 "encoding":{"x":{"datum":4.8,"type":"quantitative","axis":null},"y":{"field":"ly","type":"quantitative","axis":null},
  "color":{"field":"r","type":"nominal","legend":null},"shape":{"field":"r","type":"nominal","legend":null}}},
{"data":{"name":"legend"},
 "mark":{"type":"text","font":"Liberation Sans","fontSize":25,"color":"#000000","align":"left","baseline":"middle","text":"R"},
 "encoding":{"x":{"datum":4.984,"type":"quantitative","axis":null},"y":{"field":"ly","type":"quantitative","axis":null}}},
{"data":{"name":"legend"},
 "mark":{"type":"text","font":"Liberation Sans","fontSize":19,"color":"#000000","align":"left","baseline":"middle","text":"US","dx":17,"dy":13},
 "encoding":{"x":{"datum":4.984,"type":"quantitative","axis":null},"y":{"field":"ly","type":"quantitative","axis":null}}},
{"data":{"name":"legend"},
 "mark":{"type":"text","font":"Liberation Sans","fontSize":25,"color":"#000000","align":"left","baseline":"middle","dx":56},
 "encoding":{"x":{"datum":4.984,"type":"quantitative","axis":null},"y":{"field":"ly","type":"quantitative","axis":null},"text":{"field":"lab"}}},
{"data":{"name":"note"},
 "mark":{"type":"text","font":"Lato","fontWeight":"bold","fontSize":23,"color":"#4472C4","align":"center","baseline":"middle"},
 "encoding":{"x":{"field":"x","type":"quantitative","axis":null},"y":{"field":"y","type":"quantitative","axis":null},"text":{"field":"t"}}}
],
"resolve":{"axis":{"x":"independent","y":"independent"}}
}
